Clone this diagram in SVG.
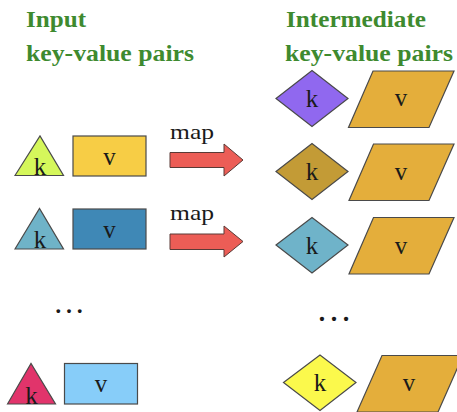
<svg xmlns="http://www.w3.org/2000/svg" width="457" height="412" viewBox="0 0 457 412">
<style>
.title{font-family:"Liberation Serif",serif;font-weight:bold;font-size:24px;fill:#3e8a2f}
.lbl{font-family:"Liberation Serif",serif;font-size:25px;fill:#1a1a1a;text-anchor:middle}
.map{font-family:"Liberation Serif",serif;font-size:21px;fill:#1a1a1a}
.dots{font-family:"Liberation Serif",serif;fill:#1a1a1a}
.shp{stroke:#4a4a4a;stroke-width:1.2;stroke-linejoin:miter}
.par{fill:#e4ae3b}
.arrow{fill:#ec5d56;stroke:#5a3a36;stroke-width:1}
</style>
<rect width="457" height="412" fill="#ffffff"/>
<g id="titles">
<text class="title" x="26" y="27" textLength="60" lengthAdjust="spacingAndGlyphs">Input</text>
<text class="title" x="26" y="61" textLength="168" lengthAdjust="spacingAndGlyphs">key-value pairs</text>
<text class="title" x="286" y="27" textLength="140" lengthAdjust="spacingAndGlyphs">Intermediate</text>
<text class="title" x="285" y="61" textLength="168" lengthAdjust="spacingAndGlyphs">key-value pairs</text>
</g>
<g id="input1">
<polygon class="shp" points="15,175.5 40,136 63.5,175.5" fill="#d5f75b"/>
<text class="lbl" x="40" y="175">k</text>
<rect class="shp" x="73" y="136" width="73" height="40" fill="#f7cd45"/>
<text class="lbl" x="109.5" y="165">v</text>
</g>
<g id="input2">
<polygon class="shp" points="15,249 39.5,208.5 63.5,249" fill="#6fb3c8"/>
<text class="lbl" x="40" y="248">k</text>
<rect class="shp" x="73" y="209" width="73" height="40" fill="#3f88b6"/>
<text class="lbl" x="109.5" y="238">v</text>
</g>
<g id="input3">
<polygon class="shp" points="7.5,404 31,363.5 55.5,404" fill="#e1346b"/>
<text class="lbl" x="31.5" y="404">k</text>
<rect class="shp" x="64.5" y="363.5" width="73" height="40.5" fill="#87cdf9"/>
<text class="lbl" x="101" y="392">v</text>
</g>
<text class="dots" x="53" y="313" font-size="32">…</text>
<g id="connectors">
<g id="map1">
<polygon class="arrow" points="170,152.5 224,152.5 224,144 243,160 224,176 224,167.5 170,167.5"/>
<text class="map" x="170" y="139" textLength="44" lengthAdjust="spacingAndGlyphs">map</text>
</g>
<g id="map2">
<polygon class="arrow" points="170,234 224,234 224,226 243,241.5 224,257 224,249.5 170,249.5"/>
<text class="map" x="170" y="220" textLength="44" lengthAdjust="spacingAndGlyphs">map</text>
</g>
</g>
<g id="inter1">
<polygon class="shp" points="276,98.5 312,70.5 348,98.5 312,126.5" fill="#9068ef"/>
<text class="lbl" x="312" y="107">k</text>
<polygon class="shp par" points="373,71 454,71 429,127.5 348.5,127.5"/>
<text class="lbl" x="401" y="106">v</text>
</g>
<g id="inter2">
<polygon class="shp" points="276,171.5 312,143.5 348,171.5 312,199.5" fill="#c39b36"/>
<text class="lbl" x="312" y="180">k</text>
<polygon class="shp par" points="373.5,144 454,144 429,200.5 349,200.5"/>
<text class="lbl" x="401" y="180">v</text>
</g>
<g id="inter3">
<polygon class="shp" points="276,245 312,217.5 348,245 312,273" fill="#6fb3c9"/>
<text class="lbl" x="312" y="253.5">k</text>
<polygon class="shp par" points="373.5,217.5 454,217.5 429,274 349,274"/>
<text class="lbl" x="401" y="254">v</text>
</g>
<text class="dots" x="316" y="321" font-size="36">…</text>
<g id="inter4">
<polygon class="shp" points="283.5,382.5 320,355 356,382.5 320,410.5" fill="#fbf94c"/>
<text class="lbl" x="320" y="391">k</text>
<polygon class="shp par" points="382,355.5 463,355.5 438,412 357,412"/>
<text class="lbl" x="409" y="391">v</text>
</g>
</svg>
